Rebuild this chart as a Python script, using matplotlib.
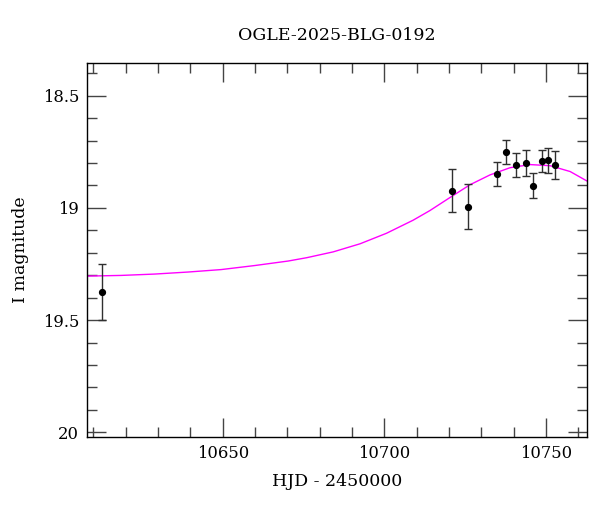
import matplotlib
matplotlib.use("Agg")
import matplotlib.pyplot as plt
from matplotlib.ticker import MultipleLocator

# Observed photometry
hjd = [10612.6, 10720.8, 10725.9, 10734.8, 10737.8, 10740.8, 10743.8,
       10745.9, 10748.8, 10750.8, 10752.7]
mag = [19.375, 18.923, 18.994, 18.850, 18.752, 18.810, 18.798,
       18.901, 18.791, 18.788, 18.810]
err = [0.123, 0.095, 0.102, 0.053, 0.054, 0.054, 0.058,
       0.055, 0.049, 0.057, 0.063]

# Model curve
model_hjd = [10608.1, 10618.6, 10628.9, 10639.2, 10649.5, 10659.9, 10670.2,
             10676.0, 10684.2, 10692.5, 10700.7, 10708.9, 10714.1, 10717.2,
             10720.3, 10726.5, 10732.7, 10738.9, 10745.1, 10751.3, 10757.5,
             10762.8]
model_mag = [19.304, 19.301, 19.295, 19.286, 19.275, 19.257, 19.237,
             19.222, 19.196, 19.160, 19.113, 19.055, 19.012, 18.983,
             18.954, 18.897, 18.853, 18.821, 18.807, 18.812, 18.838,
             18.881]

title = "OGLE-2025-BLG-0192"
xlabel = "HJD - 2450000"
ylabel = "I magnitude"

plt.rcParams['font.family'] = ['DejaVu Serif']

fig = plt.figure(figsize=(6.0, 5.12), dpi=100)
ax = fig.add_axes([0.1455, 0.147, 0.8333, 0.7305])

ax.plot(model_hjd, model_mag, color='#ff00ff', lw=1.0, zorder=2)
ax.errorbar(hjd, mag, yerr=err, fmt='o', color='black', ms=4.2,
            ecolor='#303030', elinewidth=1.0, capsize=3, capthick=1.0, zorder=3)

ax.set_xlim(10608.1, 10762.8)
ax.set_ylim(20.02, 18.353)

ax.xaxis.set_major_locator(MultipleLocator(50))
ax.xaxis.set_minor_locator(MultipleLocator(10))
ax.yaxis.set_major_locator(MultipleLocator(0.5))
ax.yaxis.set_minor_locator(MultipleLocator(0.1))
ax.set_yticks([18.5, 19, 19.5, 20])
ax.set_yticklabels(['18.5', '19', '19.5', '20'])

ax.tick_params(which='both', direction='in', top=True, right=True,
               labelsize=11.8, color='#444444', width=1.0)
ax.tick_params(which='major', length=13.5, pad=6)
ax.tick_params(which='minor', length=7)
for s in ax.spines.values():
    s.set_linewidth(1.0)

ax.set_title(title, fontsize=12.5, pad=16)
ax.set_xlabel(xlabel, fontsize=12.5, labelpad=8)
ax.set_ylabel(ylabel, fontsize=12.5, labelpad=10)

fig.savefig("out.png", dpi=100)
